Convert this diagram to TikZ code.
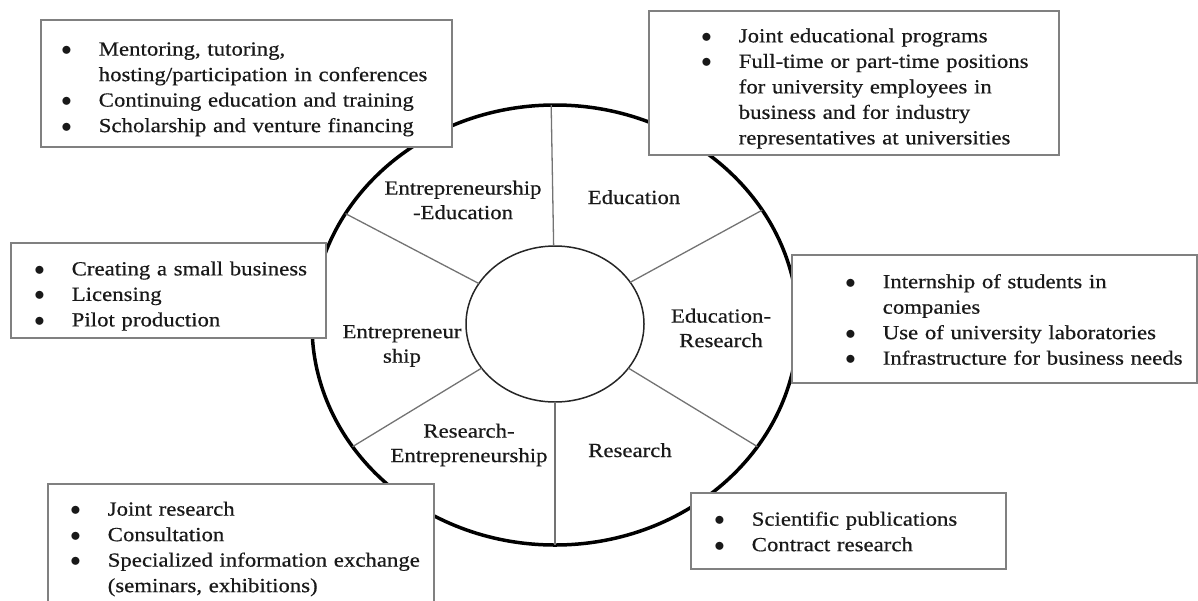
\documentclass[tikz,border=0pt]{standalone}
\usepackage{fontspec}
\setmainfont{Liberation Serif}[FakeStretch=1.14, FakeBold=0.5]
\usepackage{enumitem}
\usetikzlibrary{shapes.geometric}
\setlist[itemize]{nosep, label=$\bullet$, labelsep=27pt}
\tikzset{
    infobox/.style={draw=black!50, line width=1.5pt, fill=white, anchor=north west, inner sep=0pt, align=left, font=\fontsize{20}{25.5}\selectfont, text=black!90},
    ring/.style={draw=black, ellipse, line width=3.5pt, inner sep=0pt, outer sep=0pt},
    hub/.style={draw=black!85, ellipse, line width=1.5pt, inner sep=0pt, outer sep=0pt},
    spoke/.style={draw=black!55, line width=1.3pt},
    sector/.style={align=center, font=\fontsize{20}{24.5}\selectfont, text=black!90}
}
\begin{document}
\begin{tikzpicture}[x=1pt, y=-1pt]
        \useasboundingbox (0,0) rectangle (1198,600);

        % -----------------------------------------------------------------
        % RING AND SECTORS
        % -----------------------------------------------------------------
        \node[ring, minimum width=486pt, minimum height=440pt] (outer) at (555,325) {};
        \node[hub, minimum width=178pt, minimum height=156pt] (inner) at (555,324) {};
        \foreach \a in {29,91,152,211,270,329}
            \draw[spoke] (inner.\a) -- (outer.\a);

        \node[sector] (entedu) at (463,200) {Entrepreneurship\\-Education};
        \node[sector, anchor=base] (edu) at (634,204) {Education};
        \node[sector] (edures) at (721,328) {Education-\\Research};
        \node[sector] (entr) at (402,346) {Entrepreneur\\ship};
        \node[sector] (resent) at (469,445) {Research-\\Entrepreneurship};
        \node[sector, anchor=base] (res) at (630,457) {Research};

        % -----------------------------------------------------------------
        % FORMS OF COOPERATION
        % -----------------------------------------------------------------
        \node[infobox, text width=411pt, minimum height=127pt] (mentoring) at (40,19) {%
            \begin{itemize}[leftmargin=58pt]
            \item Mentoring, tutoring,\\hosting/participation in conferences
            \item Continuing education and training
            \item Scholarship and venture financing
            \end{itemize}};

        \node[infobox, text width=410pt, minimum height=144pt] (jointedu) at (648,10) {%
            \begin{itemize}[leftmargin=90pt]
            \item Joint educational programs
            \item Full-time or part-time positions\\for university employees in\\business and for industry\\representatives at universities
            \end{itemize}};

        \node[infobox, text width=315pt, minimum height=95pt] (smallbiz) at (10,242) {%
            \begin{itemize}[leftmargin=61pt]
            \item Creating a small business
            \item Licensing
            \item Pilot production
            \end{itemize}};

        \node[infobox, text width=405pt, minimum height=128pt] (internship) at (791,254) {%
            \begin{itemize}[leftmargin=91pt]
            \item Internship of students in\\companies
            \item Use of university laboratories
            \item Infrastructure for business needs
            \end{itemize}\vspace{10pt}};

        \node[infobox, text width=386pt, minimum height=119pt] (jointres) at (47,483) {%
            \begin{itemize}[leftmargin=60pt]
            \item Joint research
            \item Consultation
            \item Specialized information exchange\\(seminars, exhibitions)
            \end{itemize}};

        \node[infobox, text width=315pt, minimum height=76pt] (publications) at (690,492) {%
            \begin{itemize}[leftmargin=61pt]
            \item Scientific publications
            \item Contract research
            \end{itemize}\vspace{10pt}};

\end{tikzpicture}
\end{document}
